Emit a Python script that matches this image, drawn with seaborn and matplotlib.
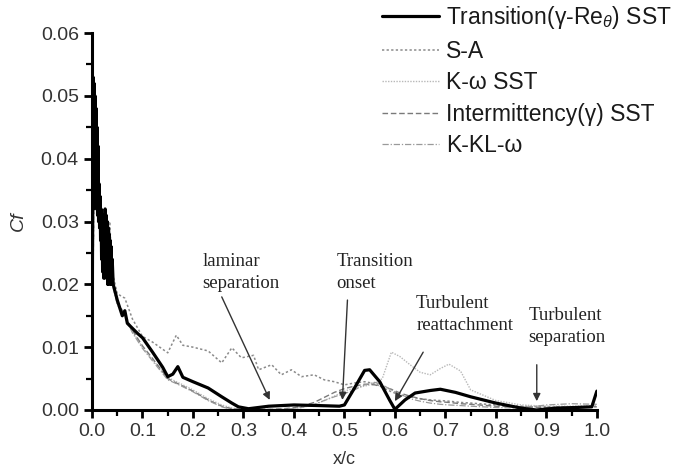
import matplotlib
matplotlib.use("Agg")
import matplotlib.pyplot as plt
import numpy as np
import pandas as pd
import seaborn as sns
from matplotlib.ticker import MultipleLocator, FormatStrFormatter

# skin friction along the chord
x_trans = [0, 0.002, 0.003, 0.004, 0.005, 0.006, 0.007, 0.008, 0.009, 0.010,
           0.011, 0.012, 0.013, 0.014, 0.015, 0.016, 0.017, 0.018, 0.019, 0.020,
           0.021, 0.022, 0.023, 0.024, 0.025, 0.026, 0.027, 0.028, 0.029, 0.030,
           0.031, 0.032, 0.033, 0.034, 0.035, 0.036, 0.037, 0.038, 0.039, 0.040,
           0.042, 0.05, 0.06, 0.065, 0.07, 0.08, 0.09, 0.10, 0.12, 0.14,
           0.15, 0.16, 0.17, 0.18, 0.20, 0.23, 0.257, 0.277, 0.29, 0.31,
           0.35, 0.40, 0.45, 0.49, 0.50, 0.52, 0.54, 0.55, 0.57, 0.59,
           0.60, 0.62, 0.64, 0.67, 0.69, 0.72, 0.75, 0.80, 0.85, 0.88,
           0.92, 0.96, 0.99, 1.0]
cf_trans = [0.001, 0.053, 0.032, 0.052, 0.036, 0.050, 0.034, 0.048, 0.032, 0.045,
            0.031, 0.042, 0.030, 0.036, 0.029, 0.034, 0.027, 0.032, 0.024, 0.031,
            0.022, 0.030, 0.021, 0.031, 0.021, 0.032, 0.022, 0.031, 0.021, 0.030,
            0.020, 0.029, 0.020, 0.028, 0.021, 0.027, 0.020, 0.026, 0.020, 0.024,
            0.020, 0.0175, 0.0150, 0.0158, 0.0138, 0.0130, 0.0122, 0.0115, 0.0092, 0.0068,
            0.0053, 0.0057, 0.0069, 0.0052, 0.0045, 0.0035, 0.0021, 0.0011, 0.0005, 0.0002,
            0.0006, 0.0008, 0.0007, 0.0006, 0.0008, 0.0035, 0.0063, 0.0064, 0.0045, 0.0015,
            0.0001, 0.0016, 0.0027, 0.0031, 0.0033, 0.0028, 0.0021, 0.0011, 0.0003, 0.0000,
            0.0003, 0.0004, 0.0005, 0.0030]

# the other four models share one chord grid
x_models = [0, 0.005, 0.01, 0.015, 0.02, 0.025, 0.03, 0.035, 0.04, 0.05,
            0.065, 0.08, 0.10, 0.12, 0.15, 0.167, 0.18, 0.20, 0.23, 0.257,
            0.277, 0.296, 0.32, 0.33, 0.356, 0.375, 0.395, 0.415, 0.44, 0.46,
            0.48, 0.50, 0.52, 0.54, 0.56, 0.575, 0.593, 0.61, 0.63, 0.65,
            0.67, 0.69, 0.707, 0.73, 0.75, 0.80, 0.85, 0.90, 0.95, 1.0]
cf_sa = [0.002, 0.048, 0.042, 0.034, 0.030, 0.031, 0.026, 0.030, 0.022, 0.0185,
         0.0178, 0.0145, 0.0117, 0.0108, 0.0091, 0.0119, 0.0103, 0.0100, 0.0094, 0.0075,
         0.0099, 0.0083, 0.0087, 0.0064, 0.0072, 0.0056, 0.0064, 0.0053, 0.0056, 0.0048,
         0.0045, 0.0040, 0.0043, 0.0045, 0.0042, 0.0036, 0.0029, 0.0024, 0.0021, 0.0018,
         0.0016, 0.0015, 0.0014, 0.0012, 0.0011, 0.0008, 0.0006, 0.0005, 0.0005, 0.0006]
cf_kw = [0.002, 0.046, 0.040, 0.033, 0.029, 0.030, 0.024, 0.028, 0.021, 0.0170,
         0.0150, 0.0125, 0.0100, 0.0080, 0.0052, 0.0045, 0.0040, 0.0032, 0.0018, 0.0008,
         0.0003, 0.0001, 0.0001, 0.0001, 0.0001, 0.0001, 0.0002, 0.0004, 0.0008, 0.0015,
         0.0022, 0.0030, 0.0035, 0.0038, 0.0042, 0.0050, 0.0092, 0.0085, 0.0072, 0.0060,
         0.0056, 0.0066, 0.0073, 0.0062, 0.0032, 0.0015, 0.0008, 0.0006, 0.0006, 0.0007]
cf_gamma = [0.002, 0.047, 0.041, 0.033, 0.029, 0.030, 0.025, 0.029, 0.021, 0.0172,
            0.0152, 0.0127, 0.0102, 0.0082, 0.0050, 0.0043, 0.0038, 0.0030, 0.0016, 0.0006,
            0.0002, 0.0001, 0.0001, 0.0001, 0.0001, 0.0002, 0.0003, 0.0006, 0.0012, 0.0020,
            0.0028, 0.0034, 0.0038, 0.0041, 0.0040, 0.0037, 0.0033, 0.0027, 0.0022, 0.0018,
            0.0015, 0.0013, 0.0012, 0.0010, 0.0009, 0.0006, 0.0005, 0.0004, 0.0004, 0.0005]
cf_kkl = [0.002, 0.045, 0.039, 0.032, 0.028, 0.030, 0.023, 0.027, 0.020, 0.0168,
          0.0148, 0.0123, 0.0098, 0.0078, 0.0048, 0.0042, 0.0037, 0.0029, 0.0015, 0.0005,
          0.0001, 0.0000, 0.0000, 0.0000, 0.0001, 0.0001, 0.0002, 0.0004, 0.0009, 0.0015,
          0.0021, 0.0026, 0.0032, 0.0040, 0.0044, 0.0040, 0.0032, 0.0025, 0.0018, 0.0014,
          0.0011, 0.0009, 0.0008, 0.0007, 0.0006, 0.0004, 0.0003, 0.0008, 0.0010, 0.0009]

labels = [r"Transition(γ-Re$_\theta$) SST", "S-A", "K-ω SST",
          "Intermittency(γ) SST", "K-KL-ω"]

# annotation texts: top-left corner, arrow tail, arrow tip (x/c, Cf)
notes = ["laminar\nseparation", "Transition\nonset", "Turbulent\nreattachment",
         "Turbulent\nseparation"]
note_text = [(0.219, 0.0250), (0.484, 0.0250), (0.642, 0.0183), (0.864, 0.0164)]
note_tails = [(0.257, 0.0180), (0.506, 0.0175), (0.656, 0.0092), (0.881, 0.0072)]
note_tips = [(0.352, 0.0016), (0.496, 0.0016), (0.600, 0.0014), (0.881, 0.0014)]

sns.set_style("ticks")
plt.rcParams["font.family"] = ["Liberation Sans", "DejaVu Sans"]
plt.rcParams["mathtext.fontset"] = "custom"
plt.rcParams["mathtext.rm"] = "Liberation Sans"
plt.rcParams["mathtext.it"] = "Liberation Sans:italic"

fig = plt.figure(figsize=(6.79, 4.72), dpi=100)
ax = fig.add_axes([0.1355, 0.1314, 0.879 - 0.1355, 0.930 - 0.1314])

sns.lineplot(x=x_models, y=cf_sa, ax=ax, color="#8a8a8a", lw=1.1,
             ls=(0, (1.5, 1.5)), label=labels[1])
sns.lineplot(x=x_models, y=cf_kw, ax=ax, color="#b8b8b8", lw=1.0,
             ls=(0, (1, 1)), label=labels[2])
sns.lineplot(x=x_models, y=cf_gamma, ax=ax, color="#7a7a7a", lw=1.0,
             ls=(0, (4, 2)), label=labels[3])
sns.lineplot(x=x_models, y=cf_kkl, ax=ax, color="#9a9a9a", lw=0.9,
             ls=(0, (5, 1.5, 1, 1.5)), label=labels[4])
sns.lineplot(x=x_trans, y=cf_trans, ax=ax, color="black", lw=2.3, label=labels[0])

handles, labs = ax.get_legend_handles_labels()
order = [4, 0, 1, 2, 3]
ax.get_legend().remove()
fig.legend([handles[i] for i in order], [labs[i] for i in order],
           loc="upper right", bbox_to_anchor=(1.003, 1.01),
           frameon=False, fontsize=16.5, handlelength=2.5, handletextpad=0.3,
           labelspacing=0.37, labelcolor="#1a1a1a", borderaxespad=0.0)

for txt, pos, tail, tip in zip(notes, note_text, note_tails, note_tips):
    ax.text(pos[0], pos[1], txt, ha="left", va="top", fontsize=13.5,
            family="Liberation Serif", color="#222222", linespacing=1.4)
    ax.annotate("", xy=tip, xytext=tail,
                arrowprops=dict(arrowstyle="-|>", color="#333333", lw=1.0,
                                mutation_scale=11, shrinkA=0, shrinkB=0))

ax.set_xlim(0, 1.0)
ax.set_ylim(0, 0.06)
ax.xaxis.set_major_locator(MultipleLocator(0.1))
ax.xaxis.set_minor_locator(MultipleLocator(0.05))
ax.yaxis.set_major_locator(MultipleLocator(0.01))
ax.yaxis.set_minor_locator(MultipleLocator(0.005))
ax.xaxis.set_major_formatter(FormatStrFormatter("%.1f"))
ax.yaxis.set_major_formatter(FormatStrFormatter("%.2f"))
ax.tick_params(which="major", direction="out", length=6, width=2.0,
               labelsize=14, labelcolor="#333333", color="black")
ax.tick_params(which="minor", direction="out", length=4, width=1.6, color="black")
sns.despine(ax=ax)
for side in ["left", "bottom"]:
    ax.spines[side].set_linewidth(2.2)
    ax.spines[side].set_color("black")
ax.set_xlabel("x/c", fontsize=13, color="#333333", labelpad=8)
ax.set_ylabel("Cf", fontsize=14, color="#333333", style="italic", labelpad=10)

fig.savefig("out.png", dpi=100)
